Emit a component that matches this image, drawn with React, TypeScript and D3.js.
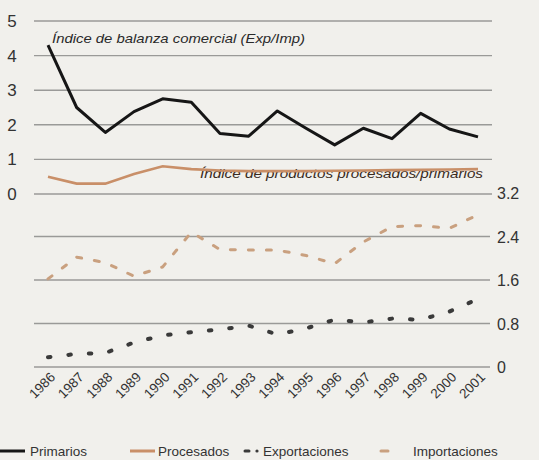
import * as d3 from "d3";

const years = [1986, 1987, 1988, 1989, 1990, 1991, 1992, 1993, 1994, 1995, 1996, 1997, 1998, 1999, 2000, 2001];
const primarios = [4.3, 2.5, 1.78, 2.38, 2.75, 2.65, 1.75, 1.67, 2.4, 1.9, 1.42, 1.9, 1.6, 2.33, 1.88, 1.65];
const procesados = [0.5, 0.3, 0.3, 0.58, 0.8, 0.72, 0.68, 0.66, 0.66, 0.66, 0.67, 0.68, 0.69, 0.7, 0.71, 0.72];
const exportaciones = [0.18, 0.24, 0.26, 0.45, 0.58, 0.64, 0.69, 0.76, 0.6, 0.71, 0.87, 0.82, 0.89, 0.87, 1.02, 1.25];
const importaciones = [1.62, 2.02, 1.92, 1.67, 1.84, 2.48, 2.16, 2.15, 2.15, 2.05, 1.9, 2.3, 2.58, 2.6, 2.55, 2.8];
const topTicks = [0, 1, 2, 3, 4, 5];
const bottomTicks = [0, 0.8, 1.6, 2.4, 3.2];

const W = 539;
const H = 460;
const font = "'Liberation Sans', Arial, sans-serif";

export default function App() {
  const x = d3.scalePoint<number>().domain(years).range([48, 478]);
  const yTop = d3.scaleLinear().domain([0, 5]).range([194, 21]);
  const yBot = d3.scaleLinear().domain([0, 3.2]).range([367, 193]);

  const lineTop = d3.line<number>().x((_, i) => x(years[i])!).y((d) => yTop(d));
  const lineBot = d3.line<number>().x((_, i) => x(years[i])!).y((d) => yBot(d));

  return (
    <svg width={W} height={H} style={{ position: "absolute", left: 0, top: 0, background: "#f1f0ec" }}>
      <rect width={W} height={H} fill="#f1f0ec" />
      {topTicks.map((t) => (
        <g key={"t" + t}>
          <line x1={34} x2={492} y1={yTop(t)} y2={yTop(t)} stroke="#9a9a98" strokeWidth={1.4} />
          <text x={12} y={yTop(t) + 6} fontSize={17} fontFamily={font} fill="#333" textAnchor="middle">
            {t}
          </text>
        </g>
      ))}
      {bottomTicks.map((t) => (
        <g key={"b" + t}>
          {t < 3.2 && <line x1={34} x2={490} y1={yBot(t)} y2={yBot(t)} stroke="#9a9a98" strokeWidth={1.4} />}
          <text x={497} y={yBot(t) + 6} fontSize={16} fontFamily={font} fill="#333">
            {t}
          </text>
        </g>
      ))}

      <text
        x={200}
        y={178}
        fontSize={13.5}
        fontStyle="italic"
        fontFamily={font}
        fill="#3a2a20"
        textLength={283}
        lengthAdjust="spacingAndGlyphs"
      >
        Índice de productos procesados/primarios
      </text>

      <path d={lineTop(procesados)!} fill="none" stroke="#c98f68" strokeWidth={2.6} />
      <path d={lineTop(primarios)!} fill="none" stroke="#161616" strokeWidth={3} strokeLinejoin="round" />

      <path
        d={lineBot(importaciones)!}
        fill="none"
        stroke="#c9a07f"
        strokeWidth={3}
        strokeDasharray="5,13"
        strokeLinecap="round"
      />
      <path
        d={lineBot(exportaciones)!}
        fill="none"
        stroke="#3a3a3a"
        strokeWidth={4}
        strokeDasharray="2.5,18"
        strokeLinecap="round"
      />

      <text
        x={52}
        y={43}
        fontSize={13.5}
        fontStyle="italic"
        fontFamily={font}
        fill="#2a2a2a"
        textLength={253}
        lengthAdjust="spacingAndGlyphs"
      >
        Índice de balanza comercial (Exp/Imp)
      </text>

      {years.map((yr) => (
        <text
          key={yr}
          transform={`translate(${x(yr)! + 8},${378}) rotate(-45)`}
          fontSize={13.5}
          fontFamily={font}
          fill="#333"
          textAnchor="end"
        >
          {yr}
        </text>
      ))}

      <g fontFamily={font} fontSize={13.5} fill="#333">
        <line x1={0} x2={25} y1={451} y2={451} stroke="#161616" strokeWidth={3} />
        <text x={30} y={456}>Primarios</text>
        <line x1={130} x2={155} y1={451} y2={451} stroke="#c98f68" strokeWidth={3} />
        <text x={158} y={456}>Procesados</text>
        <line x1={245} x2={249} y1={451} y2={451} stroke="#3a3a3a" strokeWidth={3} strokeLinecap="round" />
        <circle cx={257} cy={451} r={1.6} fill="#3a3a3a" />
        <text x={263} y={456}>Exportaciones</text>
        <line x1={381} x2={388} y1={451} y2={451} stroke="#c9a07f" strokeWidth={3} strokeLinecap="round" />
        <text x={413} y={456}>Importaciones</text>
      </g>
    </svg>
  );
}
